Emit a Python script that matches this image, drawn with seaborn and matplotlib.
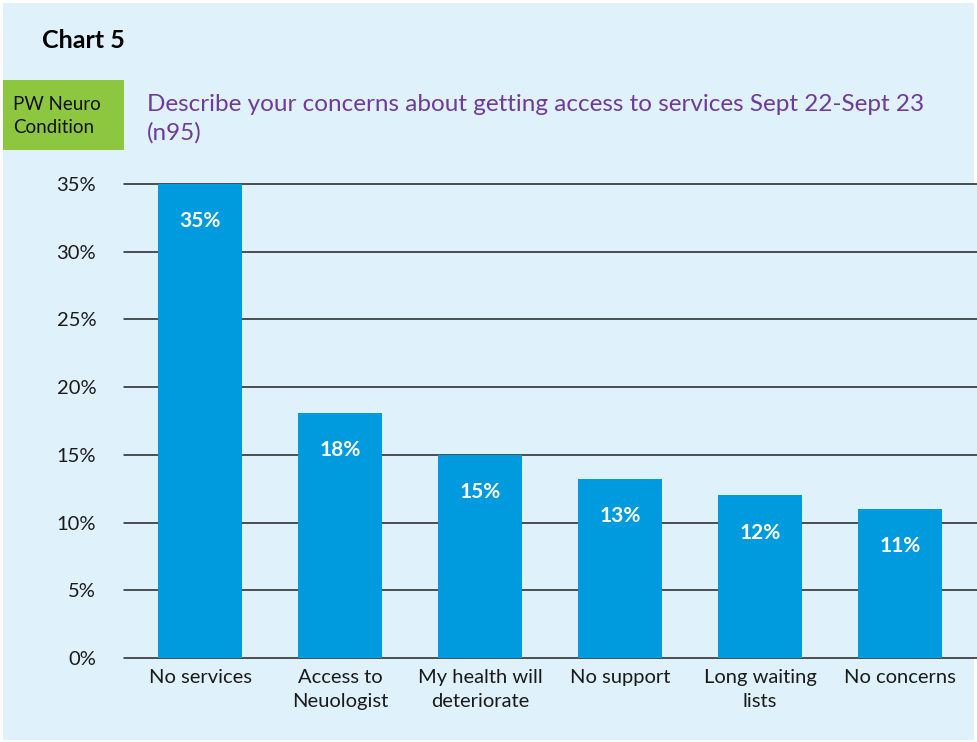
import pandas as pd
import numpy as np
import seaborn as sns
import matplotlib.pyplot as plt
from matplotlib.patches import Rectangle

# Chart 5 data
categories = ['No services', 'Access to\nNeuologist', 'My health will\ndeteriorate',
              'No support', 'Long waiting\nlists', 'No concerns']
values = [35, 18.1, 15, 13.2, 12, 11]
labels = ['35%', '18%', '15%', '13%', '12%', '11%']
yticks = [0, 5, 10, 15, 20, 25, 30, 35]

df = pd.DataFrame({'Concern': categories, 'Percent': values})

bg = '#dff1fb'
sns.set_theme(style='white')
plt.rcParams['font.family'] = ['Lato', 'DejaVu Sans']

fig = plt.figure(figsize=(9.77, 7.42), dpi=100)
fig.patch.set_facecolor('white')
fig.patches.append(Rectangle((3 / 977, 2 / 742), 971 / 977, 737 / 742,
                             transform=fig.transFigure, facecolor=bg,
                             edgecolor='none', zorder=-10))

ax = fig.add_axes([124 / 977, 1 - 658 / 742, 853 / 977, 474 / 742])
ax.set_facecolor(bg)
sns.barplot(data=df, x='Concern', y='Percent', color='#009ade', width=0.6,
            saturation=1, linewidth=0, ax=ax, zorder=3)

ax.set_ylim(0, 35)
ax.set_xlim(-0.543, 5.55)
ax.set_yticks(yticks)
ax.set_yticklabels([f'{t}%' for t in yticks], fontsize=14.5, color='#1a1a1a')
ax.tick_params(axis='x', labelsize=14.5, colors='#1a1a1a', length=0, pad=8)
ax.tick_params(axis='y', length=0, pad=20)
for lab in ax.get_xticklabels():
    lab.set_linespacing(1.5)
ax.set_xlabel('')
ax.set_ylabel('')
for t in yticks:
    ax.axhline(t, color='#222222', lw=1.1, zorder=1, clip_on=False)
for s in ax.spines.values():
    s.set_visible(False)

for bar, lab in zip(ax.patches, labels):
    ax.text(bar.get_x() + bar.get_width() / 2, bar.get_height() - 2.75, lab,
            ha='center', va='center', color='white', fontsize=15,
            fontweight='bold', zorder=4)

fig.text(42 / 977, 1 - 40 / 742, 'Chart 5', fontsize=18, fontweight='bold',
         color='black', va='center', ha='left')
fig.patches.append(Rectangle((3 / 977, 1 - 150 / 742), 121 / 977, 70 / 742,
                             transform=fig.transFigure, facecolor='#8dc63f',
                             edgecolor='none'))
fig.text(13 / 977, 1 - 116 / 742, 'PW Neuro\nCondition', fontsize=13.5,
         color='#111111', va='center', ha='left', linespacing=1.4)
fig.text(147 / 977, 1 - 119 / 742,
         'Describe your concerns about getting access to services Sept 22-Sept 23\n(n95)',
         fontsize=17.5, color='#6f3a9c', va='center', ha='left', linespacing=1.4)

plt.savefig('out.png', dpi=100, facecolor=fig.get_facecolor())
